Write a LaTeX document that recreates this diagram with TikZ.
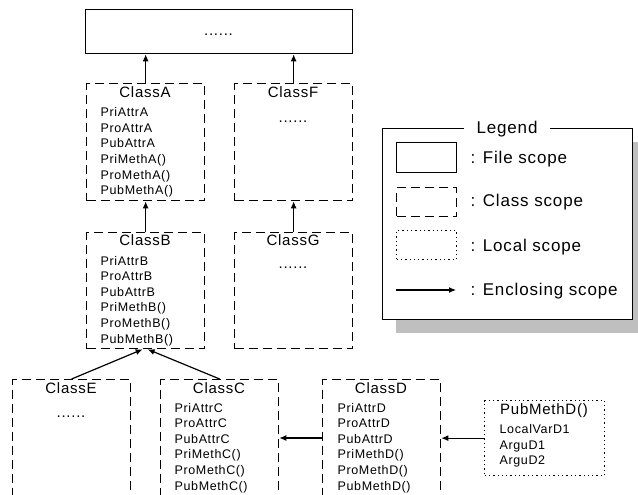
\documentclass[tikz,border=0pt]{standalone}
\usepackage{fontspec}
\setmainfont[LetterSpace=5]{Liberation Sans}
\usetikzlibrary{arrows.meta}
\begin{document}
\begin{tikzpicture}[x=1pt,y=-1pt,line width=1.3pt,
  filebox/.style={draw,solid,inner sep=0,anchor=north west},
  classbox/.style={draw,dash pattern=on 9pt off 5pt,inner sep=0,anchor=north west},
  localbox/.style={draw,dash pattern=on 1.3pt off 3pt,inner sep=0,anchor=north west},
  ttl/.style={font=\fontsize{15}{18}\selectfont,inner sep=0,anchor=base},
  mem/.style={font=\fontsize{12.5}{15}\selectfont,inner sep=0,anchor=base west},
  legtext/.style={font=\fontsize{17}{20}\selectfont,inner sep=0,anchor=base west},
  arr/.style={-{Latex[length=7pt,width=6pt]},line width=1.2pt,solid}]
\path[use as bounding box,clip] (0,0) rectangle (638,495);

% file scope box
\node[filebox,minimum width=267,minimum height=44] (file) at (85,9) {};
\node[ttl,anchor=center] (filedots) at (218.5,35) {......};

% class boxes
\node[classbox,minimum width=118,minimum height=117] (A) at (86,83) {};
\node[classbox,minimum width=118,minimum height=117] (F) at (234,83) {};
\node[classbox,minimum width=118,minimum height=116] (B) at (86,232) {};
\node[classbox,minimum width=118,minimum height=116] (G) at (234,232) {};
\node[classbox,minimum width=118,minimum height=160] (E) at (12,379) {};
\node[classbox,minimum width=118,minimum height=160] (C) at (160,379) {};
\node[classbox,minimum width=118,minimum height=160] (D) at (322,379) {};
\node[localbox,minimum width=120,minimum height=75] (L) at (484,400) {};

% titles
\node[ttl] (At) at (145,98) {ClassA};
\node[ttl] (Ft) at (293,98) {ClassF};
\node[ttl] (Bt) at (145,245) {ClassB};
\node[ttl] (Gt) at (293,245) {ClassG};
\node[ttl] (Et) at (71,393) {ClassE};
\node[ttl] (Ct) at (219,393) {ClassC};
\node[ttl] (Dt) at (381,393) {ClassD};
\node[ttl] (Lt) at (544,414) {PubMethD()};

\node[ttl,anchor=center] (Fd) at (293,122) {......};
\node[ttl,anchor=center] (Gd) at (293,268) {......};
\node[ttl,anchor=center] (Ed) at (71,417) {......};

% members
\foreach \t [count=\i] in {PriAttrA,ProAttrA,PubAttrA,PriMethA(),ProMethA(),PubMethA()}
  \node[mem] (Am\i) at (100,{116.7+15.6*(\i-1)}) {\t};
\foreach \t [count=\i] in {PriAttrB,ProAttrB,PubAttrB,PriMethB(),ProMethB(),PubMethB()}
  \node[mem] (Bm\i) at (100,{265+15.6*(\i-1)}) {\t};
\foreach \t [count=\i] in {PriAttrC,ProAttrC,PubAttrC,PriMethC(),ProMethC(),PubMethC()}
  \node[mem] (Cm\i) at (174,{412+15.6*(\i-1)}) {\t};
\foreach \t [count=\i] in {PriAttrD,ProAttrD,PubAttrD,PriMethD(),ProMethD(),PubMethD()}
  \node[mem] (Dm\i) at (337,{412+15.6*(\i-1)}) {\t};
\foreach \t [count=\i] in {LocalVarD1,ArguD1,ArguD2}
  \node[mem] (Lm\i) at (499,{433.5+15.6*(\i-1)}) {\t};

% arrows
\draw[arr] (A.north) -- (A.north |- file.south);
\draw[arr] (F.north) -- (F.north |- file.south);
\draw[arr] (B.north) -- (A.south);
\draw[arr] (G.north) -- (F.south);
\draw[arr] (E.north) -- ([xshift=-3pt]B.south);
\draw[arr] (C.north) -- ([xshift=2pt]B.south);
\draw[arr] ([yshift=-59pt]D.north west) -- ([yshift=-59pt]C.north east);
\draw[arr] (L.west) -- (L.west -| D.east);

% legend
\fill[black!25] (396,142) rectangle (646,333);
\node[filebox,fill=white,minimum width=250,minimum height=191] (leg) at (382,128) {};
\node[fill=white,inner xsep=13,inner ysep=2,font=\fontsize{17}{20}\selectfont,anchor=base] (legt) at (507,133) {Legend};
\node[filebox,minimum width=60,minimum height=30] (s1) at (396,142) {};
\node[classbox,minimum width=60,minimum height=29] (s2) at (396,187) {};
\node[localbox,minimum width=60,minimum height=29] (s3) at (396,230) {};
\coordinate (s4a) at (396,290);
\coordinate (s4b) at (456,290);
\draw[arr] (s4a) -- (s4b);
\node[legtext] (l1) at (470,163) {: File scope};
\node[legtext] (l2) at (470,206) {: Class scope};
\node[legtext] (l3) at (470,251) {: Local scope};
\node[legtext] (l4) at (470,295) {: Enclosing scope};
\end{tikzpicture}
\end{document}
